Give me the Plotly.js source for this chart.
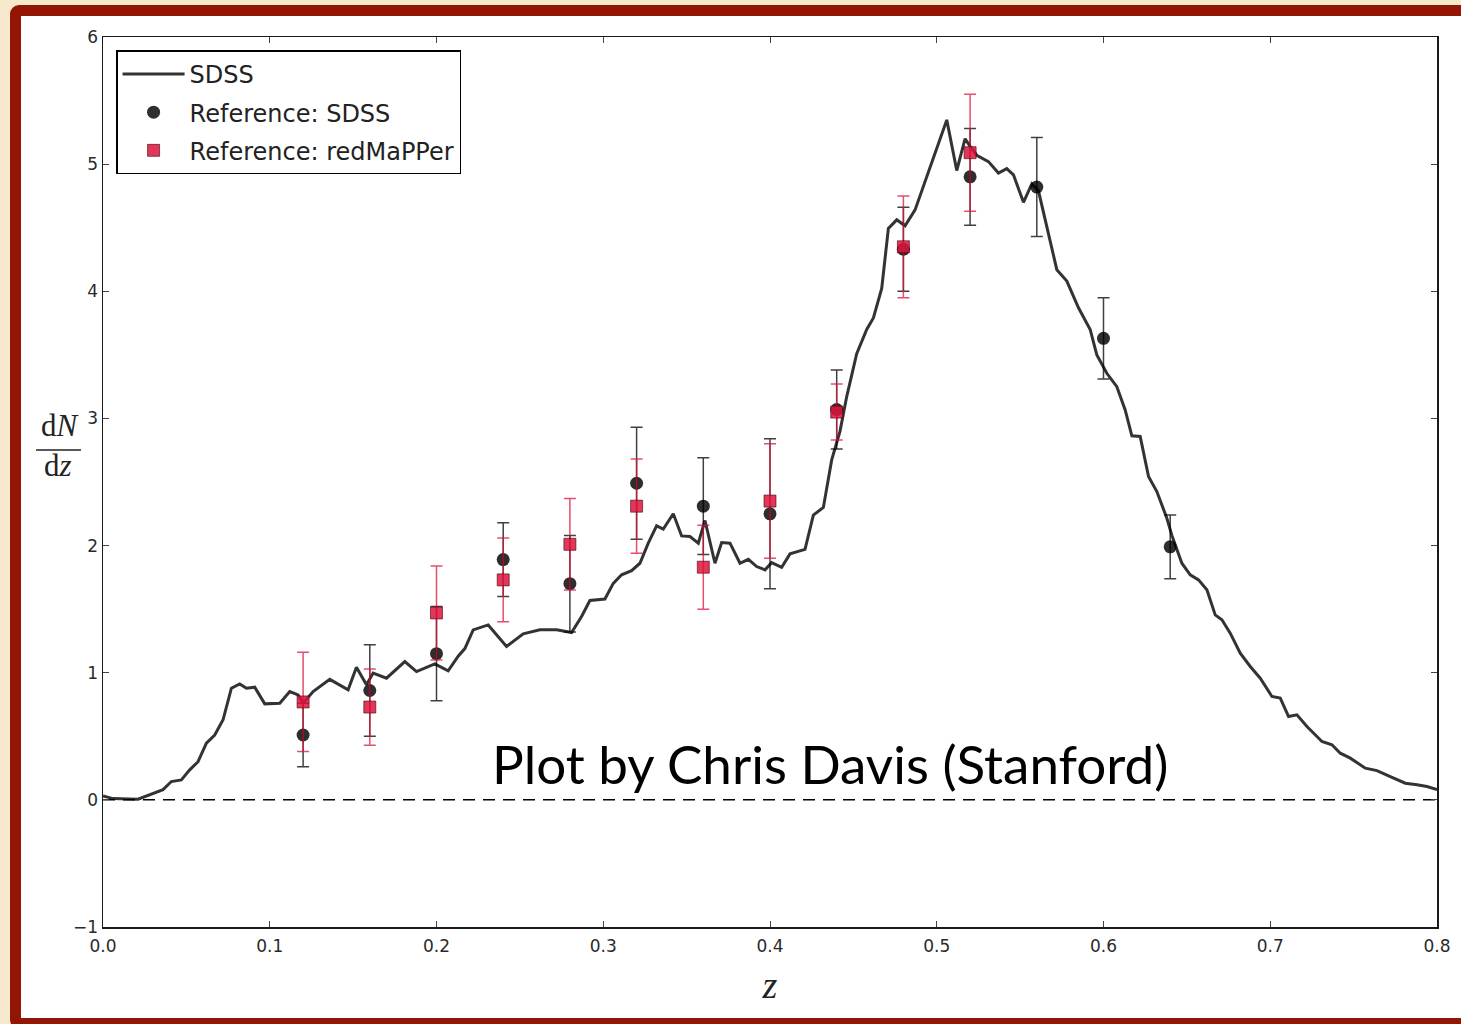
<!DOCTYPE html>
<html>
<head>
<meta charset="utf-8">
<script src="https://cdn.plot.ly/plotly-3.0.1.min.js"></script>
<style>
  html, body { margin:0; padding:0; width:1461px; height:1024px; overflow:hidden; background:#f7e9cd; }
  #frame { position:absolute; left:10px; top:5px; width:1480px; height:1024px; box-sizing:border-box;
           border:11px solid #931503; border-radius:9px; background:#ffffff; }
  #chart { position:absolute; left:0; top:0; width:1461px; height:1024px; }
</style>
</head>
<body>
<div id="frame"></div>
<div id="chart"></div>
<script>
// SDSS model curve dN/dz
const lineZ = [0.000,0.006,0.021,0.028,0.036,0.041,0.047,0.052,0.057,0.062,0.067,0.072,0.077,0.082,0.086,0.091,0.097,0.106,0.112,0.117,0.120,0.126,0.136,0.147,0.152,0.158,0.162,0.170,0.181,0.188,0.199,0.207,0.213,0.217,0.222,0.231,0.242,0.252,0.262,0.272,0.281,0.287,0.292,0.301,0.306,0.311,0.317,0.322,0.327,0.332,0.336,0.342,0.347,0.352,0.357,0.361,0.367,0.371,0.376,0.382,0.387,0.392,0.397,0.401,0.407,0.412,0.421,0.426,0.432,0.437,0.442,0.446,0.452,0.458,0.462,0.467,0.471,0.476,0.481,0.487,0.493,0.499,0.506,0.512,0.517,0.520,0.524,0.531,0.537,0.542,0.546,0.552,0.557,0.561,0.566,0.572,0.578,0.585,0.592,0.596,0.602,0.608,0.613,0.617,0.622,0.627,0.632,0.638,0.641,0.647,0.652,0.657,0.662,0.667,0.671,0.676,0.682,0.688,0.694,0.701,0.706,0.711,0.716,0.722,0.731,0.737,0.742,0.748,0.757,0.764,0.772,0.781,0.788,0.794,0.800];
const lineN = [0.03,0.01,0.005,0.04,0.08,0.144,0.157,0.236,0.30,0.446,0.51,0.63,0.878,0.912,0.878,0.886,0.755,0.76,0.852,0.826,0.76,0.852,0.948,0.865,1.043,0.905,0.997,0.957,1.088,1.009,1.07,1.015,1.13,1.19,1.337,1.376,1.206,1.306,1.337,1.337,1.316,1.442,1.568,1.58,1.703,1.77,1.803,1.861,2.019,2.155,2.129,2.25,2.076,2.071,2.019,2.197,1.861,2.024,2.019,1.861,1.892,1.835,1.809,1.866,1.829,1.935,1.97,2.24,2.30,2.674,2.90,3.172,3.51,3.70,3.79,4.023,4.495,4.562,4.515,4.64,4.863,5.086,5.348,4.95,5.2,5.14,5.07,5.02,4.93,4.965,4.916,4.70,4.845,4.79,4.51,4.17,4.08,3.87,3.70,3.50,3.355,3.25,3.067,2.863,2.858,2.543,2.425,2.215,2.08,1.861,1.77,1.73,1.652,1.455,1.416,1.311,1.154,1.049,0.957,0.813,0.80,0.655,0.669,0.577,0.459,0.433,0.367,0.328,0.249,0.23,0.183,0.131,0.118,0.105,0.08];

// Reference: SDSS
const sdssZ   = [0.12,0.16,0.20,0.24,0.28,0.32,0.36,0.40,0.44,0.48,0.52,0.56,0.60,0.64];
const sdssN   = [0.51,0.86,1.15,1.89,1.70,2.49,2.31,2.25,3.07,4.33,4.90,4.82,3.63,1.99];
const sdssErr = [0.25,0.36,0.37,0.29,0.38,0.44,0.38,0.59,0.31,0.33,0.38,0.39,0.32,0.25];

// Reference: redMaPPer
const rmZ   = [0.12,0.16,0.20,0.24,0.28,0.32,0.36,0.40,0.44,0.48,0.52];
const rmN   = [0.77,0.73,1.47,1.73,2.01,2.31,1.83,2.35,3.05,4.35,5.09];
const rmErr = [0.39,0.30,0.37,0.33,0.36,0.37,0.33,0.45,0.22,0.40,0.46];

const tickVals = [0,0.1,0.2,0.3,0.4,0.5,0.6,0.7,0.8];
const yTickVals = [-1,0,1,2,3,4,5,6];

const traces = [
  { x: lineZ, y: lineN, type:'scatter', mode:'lines', name:'SDSS', legendgroup:'a',
    line:{color:'rgba(0,0,0,0.8)', width:3} },
  { x: sdssZ, y: sdssN, type:'scatter', mode:'markers', name:'Reference: SDSS', legendgroup:'b',
    marker:{symbol:'circle', size:13, color:'rgba(0,0,0,0.82)', line:{width:0}},
    error_y:{type:'data', array:sdssErr, visible:true, color:'rgba(0,0,0,0.75)', thickness:1.5, width:6} },
  { x: rmZ, y: rmN, type:'scatter', mode:'markers', name:'Reference: redMaPPer', legendgroup:'c',
    marker:{symbol:'square', size:12, color:'rgba(220,20,60,0.85)', line:{width:1, color:'rgba(70,0,10,0.6)'}},
    error_y:{type:'data', array:rmErr, visible:true, color:'rgba(220,20,60,0.75)', thickness:1.5, width:6} }
];

const tickFont = {family:'DejaVu Sans', size:17, color:'#2a2a2a'};

const layout = {
  width:1461, height:1024,
  margin:{l:103, r:24, t:37, b:97, pad:0},
  paper_bgcolor:'rgba(0,0,0,0)', plot_bgcolor:'#ffffff',
  showlegend:true,
  legend:{x:0.0098, y:0.985, xanchor:'left', yanchor:'top', bgcolor:'#ffffff',
          bordercolor:'#000000', borderwidth:1.5, font:{family:'DejaVu Sans', size:24, color:'#222'},
          tracegroupgap:4, itemwidth:62},
  xaxis:{range:[0,0.8], tickvals:tickVals, tickformat:'.1f', ticks:'inside', ticklen:6, tickwidth:1,
         tickcolor:'#444', showline:true, linecolor:'#1a1a1a', linewidth:1.5, mirror:'allticks',
         showgrid:false, zeroline:false, tickfont:tickFont, ticklabelstandoff:3,
         title:{text:'<i>z</i>', font:{family:'Liberation Serif', size:38, color:'#222'}, standoff:16}},
  yaxis:{range:[-1,6], tickvals:yTickVals, ticks:'inside', ticklen:6, tickwidth:1,
         tickcolor:'#444', showline:true, linecolor:'#1a1a1a', linewidth:1.5, mirror:'allticks',
         showgrid:false, zeroline:false, tickfont:tickFont},
  shapes:[
    {type:'line', xref:'paper', x0:0, x1:1, yref:'y', y0:0, y1:0,
     line:{color:'#000', width:1.5, dash:'12px,8px'}, layer:'below'},
    {type:'line', xref:'paper', x0:-0.0502, x1:-0.0165, yref:'paper', y0:0.536, y1:0.536,
     line:{color:'#222', width:1.5}}
  ],
  annotations:[
    {text:'d<i>N</i>', xref:'paper', yref:'paper', x:-0.0322, y:0.542, xanchor:'center', yanchor:'bottom',
     showarrow:false, font:{family:'Liberation Serif', size:31, color:'#222'}},
    {text:'d<i>z</i>', xref:'paper', yref:'paper', x:-0.0337, y:0.541, xanchor:'center', yanchor:'top',
     showarrow:false, font:{family:'Liberation Serif', size:31, color:'#222'}},
    {text:'Plot by Chris Davis (Stanford)', xref:'paper', yref:'paper', x:0.545, y:0.184,
     xanchor:'center', yanchor:'middle', showarrow:false,
     font:{family:'Lato', size:53, color:'#000'}}
  ]
};

Plotly.newPlot('chart', traces, layout, {displayModeBar:false, staticPlot:true});
</script>
</body>
</html>
